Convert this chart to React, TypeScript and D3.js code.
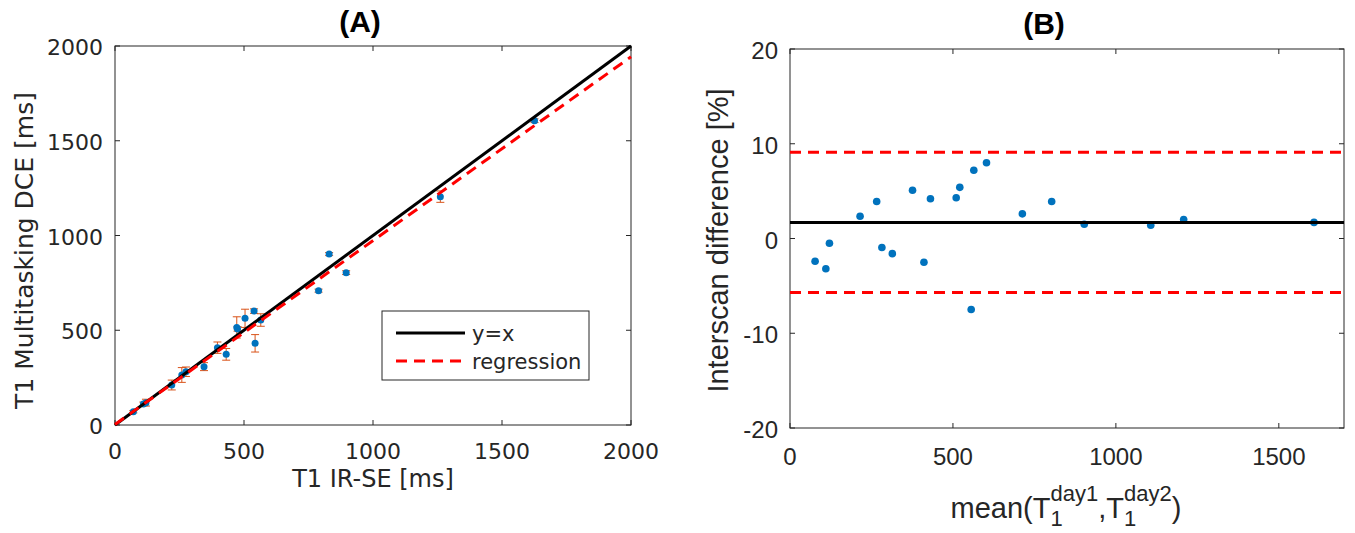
import React from 'react';
import * as d3 from 'd3';

// panel A: T1 from IR-SE vs multitasking DCE (ms), with error bar half-widths
const irse = [71, 110, 120, 220, 259, 275, 345, 397, 431, 472, 475, 504, 539, 543, 565, 789, 830, 896, 1261, 1626];
const dce = [70, 111, 118, 211, 264, 281, 308, 408, 373, 515, 507, 563, 601, 431, 554, 709, 902, 804, 1205, 1606];
const dceErr = [6, 10, 18, 26, 39, 25, 21, 30, 31, 56, 12, 48, 12, 46, 33, 8, 8, 10, 30, 10];
const regSlope = 0.97;
const regIntercept = 3;

// panel B: Bland-Altman of interscan difference
const meanT1 = [77, 110, 121, 215, 266, 282, 314, 376, 411, 431, 510, 521, 556, 564, 603, 713, 803, 903, 1107, 1208, 1608];
const diffPct = [-2.4, -3.2, -0.5, 2.35, 3.9, -0.95, -1.6, 5.1, -2.5, 4.2, 4.3, 5.4, -7.5, 7.2, 8.0, 2.6, 3.9, 1.5, 1.4, 2.0, 1.7];
const biasPct = 1.7;
const upperLoA = 9.1;
const lowerLoA = -5.7;

const ticksA = [0, 500, 1000, 1500, 2000];
const xTicksB = [0, 500, 1000, 1500];
const yTicksB = [-20, -10, 0, 10, 20];

const axisCol = '#262626';
const blue = '#0072BD';
const orange = '#D95319';
const fontA = '"DejaVu Sans", sans-serif';
const fontB = '"Liberation Sans", Arial, sans-serif';

export default function App() {
  const xA = d3.scaleLinear().domain([0, 2000]).range([115, 631]);
  const yA = d3.scaleLinear().domain([0, 2000]).range([425, 46]);
  const xB = d3.scaleLinear().domain([0, 1700]).range([790, 1344]);
  const yB = d3.scaleLinear().domain([-20, 20]).range([428, 49]);

  const identity = d3.line<number>().x(d => xA(d)).y(d => yA(d))([0, 2000]);
  const regression = d3.line<number>().x(d => xA(d)).y(d => yA(regSlope * d + regIntercept))([0, 2000]);

  const tk = 5;

  return (
    <svg width={1355} height={533} style={{ position: 'absolute', left: 0, top: 0, background: '#fff' }}>
      {/* ---------- panel A ---------- */}
      <text x={360} y={32} textAnchor="middle" fontFamily={fontB} fontWeight="bold" fontSize={30} fill="#000">(A)</text>
      <rect x={xA(0)} y={yA(2000)} width={xA(2000) - xA(0)} height={yA(0) - yA(2000)} fill="none" stroke={axisCol} strokeWidth={1} />
      {ticksA.map(t => (
        <g key={'ax' + t}>
          <line x1={xA(t)} x2={xA(t)} y1={yA(0)} y2={yA(0) - tk} stroke={axisCol} />
          <line x1={xA(t)} x2={xA(t)} y1={yA(2000)} y2={yA(2000) + tk} stroke={axisCol} />
          <text x={xA(t)} y={yA(0) + 34} textAnchor="middle" fontFamily={fontA} fontSize={22} fill={axisCol}>{t}</text>
          <line x1={xA(0)} x2={xA(0) + tk} y1={yA(t)} y2={yA(t)} stroke={axisCol} />
          <line x1={xA(2000)} x2={xA(2000) - tk} y1={yA(t)} y2={yA(t)} stroke={axisCol} />
          <text x={xA(0) - 12} y={yA(t) + 9} textAnchor="end" fontFamily={fontA} fontSize={22} fill={axisCol}>{t}</text>
        </g>
      ))}
      <text x={373} y={487} textAnchor="middle" fontFamily={fontA} fontSize={24} fill={axisCol}>T1 IR-SE [ms]</text>
      <text transform={`translate(33,${(yA(0) + yA(2000)) / 2 + 15}) rotate(-90)`} textAnchor="middle" fontFamily={fontA} fontSize={25} fill={axisCol}>T1 Multitasking DCE [ms]</text>

      {irse.map((x, i) => {
        const cx = xA(x);
        const lo = yA(dce[i] - dceErr[i]);
        const hi = yA(dce[i] + dceErr[i]);
        return (
          <g key={'eb' + i} stroke={orange} strokeWidth={1}>
            <line x1={cx} x2={cx} y1={lo} y2={hi} />
            <line x1={cx - 4} x2={cx + 4} y1={lo} y2={lo} />
            <line x1={cx - 4} x2={cx + 4} y1={hi} y2={hi} />
          </g>
        );
      })}
      {irse.map((x, i) => (
        <circle key={'pa' + i} cx={xA(x)} cy={yA(dce[i])} r={3.5} fill={blue} />
      ))}
      <path d={identity || ''} stroke="#000" strokeWidth={3} fill="none" />
      <path d={regression || ''} stroke="#ff0000" strokeWidth={3} strokeDasharray="11,7" fill="none" />

      <rect x={382} y={311} width={207} height={69} fill="#fff" stroke={axisCol} strokeWidth={1} />
      <line x1={396} x2={465} y1={333} y2={333} stroke="#000" strokeWidth={3} />
      <line x1={396} x2={465} y1={361} y2={361} stroke="#ff0000" strokeWidth={3} strokeDasharray="11,7" />
      <text x={472} y={341} fontFamily={fontA} fontSize={21} fill={axisCol}>y=x</text>
      <text x={472} y={369} fontFamily={fontA} fontSize={21} fill={axisCol}>regression</text>

      {/* ---------- panel B ---------- */}
      <text x={1044} y={34} textAnchor="middle" fontFamily={fontB} fontWeight="bold" fontSize={30} fill="#000">(B)</text>
      <rect x={xB(0)} y={yB(20)} width={xB(1700) - xB(0)} height={yB(-20) - yB(20)} fill="none" stroke={axisCol} strokeWidth={1} />
      {xTicksB.map(t => (
        <g key={'bx' + t}>
          <line x1={xB(t)} x2={xB(t)} y1={yB(-20)} y2={yB(-20) - tk} stroke={axisCol} />
          <line x1={xB(t)} x2={xB(t)} y1={yB(20)} y2={yB(20) + tk} stroke={axisCol} />
          <text x={xB(t)} y={yB(-20) + 37} textAnchor="middle" fontFamily={fontB} fontSize={24} fill={axisCol}>{t}</text>
        </g>
      ))}
      {yTicksB.map(t => (
        <g key={'by' + t}>
          <line x1={xB(0)} x2={xB(0) + tk} y1={yB(t)} y2={yB(t)} stroke={axisCol} />
          <line x1={xB(1700)} x2={xB(1700) - tk} y1={yB(t)} y2={yB(t)} stroke={axisCol} />
          <text x={xB(0) - 12} y={yB(t) + 10} textAnchor="end" fontFamily={fontB} fontSize={24} fill={axisCol}>{t}</text>
        </g>
      ))}
      <text transform={`translate(728,${(yB(20) + yB(-20)) / 2 + 2}) rotate(-90)`} textAnchor="middle" fontFamily={fontB} fontSize={29} fill={axisCol}>Interscan difference [%]</text>
      <text x={1066} y={518} textAnchor="middle" fontFamily={fontB} fontSize={29} fill={axisCol}>
        mean(T
        <tspan fontSize={22} dy={8}>1</tspan>
        <tspan fontSize={22} dx={-12.2} dy={-25}>day1</tspan>
        <tspan dy={17}>,T</tspan>
        <tspan fontSize={22} dy={8}>1</tspan>
        <tspan fontSize={22} dx={-12.2} dy={-25}>day2</tspan>
        <tspan dy={17}>)</tspan>
      </text>

      {meanT1.map((m, i) => (
        <circle key={'pb' + i} cx={xB(m)} cy={yB(diffPct[i])} r={3.8} fill={blue} />
      ))}
      <line x1={xB(0)} x2={xB(1700)} y1={yB(biasPct)} y2={yB(biasPct)} stroke="#000" strokeWidth={3} />
      <line x1={xB(0)} x2={xB(1700)} y1={yB(upperLoA)} y2={yB(upperLoA)} stroke="#ff0000" strokeWidth={3} strokeDasharray="11,7" />
      <line x1={xB(0)} x2={xB(1700)} y1={yB(lowerLoA)} y2={yB(lowerLoA)} stroke="#ff0000" strokeWidth={3} strokeDasharray="11,7" />
    </svg>
  );
}
